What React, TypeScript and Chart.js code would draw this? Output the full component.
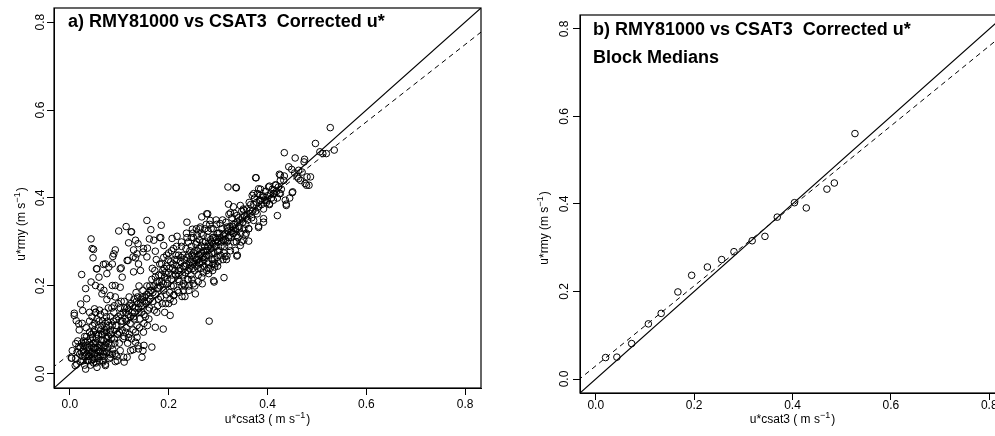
import React, { useEffect, useRef } from "react";
import { Chart, registerables } from "chart.js";

Chart.register(...registerables);

type Pt = [number, number];

const FONT = '"Liberation Sans", Arial, sans-serif';

// ---- axes ----
const xTickValues = [0, 0.2, 0.4, 0.6, 0.8];
const yTickValues = [0, 0.2, 0.4, 0.6, 0.8];
const axisMin = -0.032;
const axisMax = 0.832;

// ---- text ----
const titleA = "a) RMY81000 vs CSAT3  Corrected u*";
const titleB1 = "b) RMY81000 vs CSAT3  Corrected u*";
const titleB2 = "Block Medians";
const xLabelParts = ["u*csat3 ( m s", "\u22121", ")"];
const yLabelParts = ["u*rmy (m s", "\u22121", ")"];

// ---- reference / fit lines (intercept, slope) ----
const oneToOne = { intercept: 0, slope: 1 };
const fitA = { intercept: 0.045, slope: 0.88 };
const fitB = { intercept: 0.03, slope: 0.914 };
const lineSpanX = [-0.05, 0.9];

// ---- panel b: block medians ----
const medianCsat = [0.02, 0.043, 0.073, 0.107, 0.133, 0.167, 0.195, 0.227, 0.256, 0.281, 0.318, 0.344, 0.369, 0.404, 0.428, 0.47, 0.485, 0.527];
const medianRmy = [0.049, 0.05, 0.081, 0.126, 0.15, 0.199, 0.237, 0.256, 0.273, 0.291, 0.316, 0.326, 0.37, 0.403, 0.391, 0.434, 0.448, 0.561];

// ---- panel a: individual 30-min values (u*csat3, u*rmy) ----
const clusterLow: Pt[] = [
  [0.012, 0.035], [0.015, 0.05], [0.018, 0.062], [0.02, 0.045], [0.022, 0.028], [0.024, 0.07], [0.026, 0.04], [0.028, 0.055],
  [0.03, 0.02], [0.03, 0.085], [0.032, 0.065], [0.034, 0.045], [0.035, 0.03], [0.036, 0.075], [0.038, 0.055], [0.04, 0.04],
  [0.04, 0.095], [0.042, 0.02], [0.043, 0.065], [0.045, 0.05], [0.046, 0.083], [0.047, 0.033], [0.048, 0.06], [0.05, 0.045],
  [0.05, 0.1], [0.052, 0.072], [0.053, 0.025], [0.055, 0.055], [0.056, 0.04], [0.058, 0.088], [0.06, 0.065], [0.06, 0.03],
  [0.062, 0.05], [0.064, 0.078], [0.065, 0.11], [0.066, 0.04], [0.068, 0.06], [0.07, 0.095], [0.072, 0.022], [0.073, 0.07],
  [0.075, 0.05], [0.076, 0.12], [0.078, 0.085], [0.08, 0.035], [0.082, 0.1], [0.084, 0.065], [0.086, 0.045], [0.088, 0.12],
  [0.09, 0.08], [0.092, 0.028], [0.014, 0.022], [0.016, 0.075], [0.019, 0.1], [0.021, 0.06], [0.025, 0.115], [0.027, 0.03],
  [0.029, 0.048], [0.031, 0.072], [0.033, 0.105], [0.037, 0.04], [0.039, 0.06], [0.041, 0.08], [0.044, 0.03], [0.046, 0.11],
  [0.049, 0.07], [0.051, 0.035], [0.054, 0.09], [0.057, 0.06], [0.059, 0.12], [0.061, 0.04], [0.063, 0.1], [0.067, 0.03],
  [0.069, 0.075], [0.071, 0.05], [0.074, 0.13], [0.077, 0.06], [0.079, 0.11], [0.081, 0.045], [0.083, 0.09], [0.087, 0.055],
  [0.089, 0.14], [0.091, 0.07], [0.093, 0.11], [0.095, 0.04], [0.097, 0.09], [0.004, 0.036], [0.005, 0.053], [0.012, 0.069],
  [0.096, 0.091], [0.04, 0.12], [0.045, 0.13], [0.05, 0.115], [0.055, 0.125], [0.058, 0.105], [0.062, 0.135], [0.066, 0.12],
  [0.07, 0.14], [0.074, 0.105], [0.078, 0.15], [0.082, 0.13], [0.086, 0.11], [0.09, 0.155], [0.094, 0.125], [0.098, 0.16],
  [0.066, 0.09], [0.072, 0.115], [0.08, 0.095], [0.085, 0.15], [0.06, 0.145], [0.048, 0.095], [0.052, 0.14],
];

const clusterDense: Pt[] = [
  [0.023, 0.05], [0.027, 0.065], [0.031, 0.04], [0.035, 0.06], [0.039, 0.05], [0.043, 0.045], [0.047, 0.07], [0.051, 0.06],
  [0.055, 0.07], [0.059, 0.05], [0.063, 0.065], [0.067, 0.05], [0.071, 0.065], [0.075, 0.08], [0.079, 0.07], [0.034, 0.085],
  [0.044, 0.09], [0.054, 0.08], [0.064, 0.09], [0.074, 0.095], [0.084, 0.08], [0.028, 0.075], [0.038, 0.03], [0.048, 0.025],
  [0.058, 0.035], [0.068, 0.045],
];

const bandLower: Pt[] = [
  [0.095, 0.11], [0.098, 0.13], [0.1, 0.095], [0.102, 0.15], [0.104, 0.12], [0.106, 0.1], [0.108, 0.14], [0.11, 0.085],
  [0.11, 0.165], [0.112, 0.125], [0.114, 0.105], [0.116, 0.15], [0.118, 0.135], [0.12, 0.09], [0.12, 0.175], [0.122, 0.115],
  [0.124, 0.16], [0.126, 0.14], [0.128, 0.1], [0.13, 0.17], [0.13, 0.125], [0.132, 0.15], [0.134, 0.185], [0.136, 0.11],
  [0.138, 0.16], [0.14, 0.14], [0.14, 0.2], [0.142, 0.125], [0.144, 0.17], [0.146, 0.155], [0.148, 0.19], [0.15, 0.135],
  [0.15, 0.115], [0.152, 0.175], [0.154, 0.16], [0.156, 0.2], [0.158, 0.145], [0.16, 0.185], [0.16, 0.125], [0.162, 0.17],
  [0.1, 0.07], [0.104, 0.165], [0.108, 0.08], [0.113, 0.14], [0.117, 0.07], [0.121, 0.155], [0.125, 0.08], [0.129, 0.13],
  [0.133, 0.095], [0.137, 0.175], [0.141, 0.105], [0.145, 0.14], [0.149, 0.095], [0.153, 0.13], [0.157, 0.11], [0.161, 0.15],
  [0.103, 0.135], [0.107, 0.12], [0.111, 0.15], [0.115, 0.12], [0.119, 0.145], [0.123, 0.13], [0.127, 0.155], [0.131, 0.14],
  [0.135, 0.165], [0.139, 0.15], [0.143, 0.16], [0.147, 0.175], [0.151, 0.165], [0.155, 0.18], [0.159, 0.165], [0.163, 0.19],
];

const bandMiddle: Pt[] = [
  [0.165, 0.19], [0.166, 0.215], [0.168, 0.165], [0.17, 0.2], [0.172, 0.235], [0.174, 0.18], [0.176, 0.21], [0.178, 0.155],
  [0.18, 0.225], [0.18, 0.195], [0.182, 0.25], [0.184, 0.175], [0.186, 0.21], [0.188, 0.235], [0.19, 0.19], [0.19, 0.265],
  [0.192, 0.22], [0.194, 0.16], [0.196, 0.245], [0.198, 0.205], [0.2, 0.23], [0.2, 0.275], [0.202, 0.185], [0.204, 0.255],
  [0.206, 0.215], [0.208, 0.24], [0.21, 0.2], [0.21, 0.285], [0.212, 0.26], [0.214, 0.225], [0.216, 0.245], [0.218, 0.19],
  [0.22, 0.27], [0.22, 0.235], [0.222, 0.21], [0.224, 0.255], [0.226, 0.29], [0.228, 0.225], [0.23, 0.245], [0.23, 0.205],
  [0.167, 0.24], [0.171, 0.145], [0.175, 0.26], [0.179, 0.17], [0.183, 0.2], [0.187, 0.16], [0.191, 0.24], [0.195, 0.18],
  [0.199, 0.26], [0.203, 0.17], [0.207, 0.225], [0.211, 0.18], [0.215, 0.27], [0.219, 0.215], [0.223, 0.24], [0.227, 0.2],
  [0.232, 0.26], [0.234, 0.23], [0.235, 0.285], [0.236, 0.25], [0.238, 0.215], [0.24, 0.27], [0.24, 0.3], [0.242, 0.24],
  [0.244, 0.26], [0.245, 0.225], [0.246, 0.29], [0.248, 0.25], [0.25, 0.275], [0.25, 0.31], [0.252, 0.235], [0.254, 0.265],
  [0.255, 0.295], [0.256, 0.245], [0.258, 0.28], [0.26, 0.26], [0.26, 0.225], [0.262, 0.305], [0.264, 0.27], [0.265, 0.24],
  [0.266, 0.29], [0.268, 0.255], [0.27, 0.28], [0.27, 0.315], [0.272, 0.245], [0.274, 0.265], [0.275, 0.3], [0.276, 0.28],
  [0.278, 0.255], [0.28, 0.29], [0.28, 0.325], [0.282, 0.27], [0.284, 0.24], [0.285, 0.305], [0.286, 0.285], [0.288, 0.26],
  [0.29, 0.295], [0.29, 0.33], [0.292, 0.275], [0.294, 0.25], [0.295, 0.31], [0.296, 0.29], [0.298, 0.265], [0.3, 0.3],
  [0.3, 0.32], [0.302, 0.28], [0.233, 0.2], [0.237, 0.31], [0.241, 0.2], [0.243, 0.28], [0.247, 0.215], [0.249, 0.32],
  [0.251, 0.255], [0.253, 0.2], [0.257, 0.3], [0.259, 0.24], [0.261, 0.285], [0.263, 0.33], [0.267, 0.22], [0.269, 0.3],
  [0.271, 0.26], [0.273, 0.33], [0.277, 0.235], [0.279, 0.31], [0.281, 0.25], [0.283, 0.34], [0.287, 0.3], [0.289, 0.235],
  [0.291, 0.31], [0.293, 0.26], [0.297, 0.34], [0.299, 0.245],
];

const bandDense: Pt[] = [
  [0.162, 0.2], [0.168, 0.185], [0.173, 0.22], [0.177, 0.195], [0.181, 0.21], [0.185, 0.225], [0.189, 0.205], [0.193, 0.23],
  [0.197, 0.215], [0.201, 0.24], [0.205, 0.2], [0.209, 0.25], [0.213, 0.235], [0.217, 0.26], [0.221, 0.225], [0.225, 0.265],
  [0.229, 0.27], [0.233, 0.245], [0.237, 0.265], [0.239, 0.235], [0.243, 0.255], [0.247, 0.27], [0.249, 0.24], [0.253, 0.28],
  [0.257, 0.26], [0.261, 0.27], [0.263, 0.25], [0.267, 0.275], [0.269, 0.265], [0.273, 0.29], [0.277, 0.27], [0.279, 0.28],
  [0.283, 0.295], [0.287, 0.275], [0.289, 0.31], [0.293, 0.29], [0.297, 0.305], [0.299, 0.28], [0.303, 0.32], [0.307, 0.3],
  [0.311, 0.315], [0.315, 0.305], [0.319, 0.33], [0.323, 0.315], [0.327, 0.325], [0.331, 0.34], [0.335, 0.33], [0.339, 0.345],
  [0.343, 0.33], [0.349, 0.355], [0.186, 0.25], [0.196, 0.27], [0.206, 0.28], [0.216, 0.29], [0.226, 0.3], [0.236, 0.32],
  [0.246, 0.31], [0.256, 0.33], [0.266, 0.32], [0.276, 0.34], [0.286, 0.33], [0.296, 0.35], [0.2, 0.16], [0.21, 0.165],
  [0.22, 0.185], [0.23, 0.19], [0.24, 0.215], [0.25, 0.205], [0.26, 0.21], [0.27, 0.23], [0.28, 0.24], [0.29, 0.25],
  [0.3, 0.255], [0.31, 0.26],
];

const bandUpper: Pt[] = [
  [0.304, 0.31], [0.306, 0.29], [0.308, 0.33], [0.31, 0.305], [0.312, 0.275], [0.314, 0.32], [0.316, 0.345], [0.318, 0.3],
  [0.32, 0.325], [0.322, 0.29], [0.324, 0.335], [0.326, 0.31], [0.328, 0.355], [0.33, 0.32], [0.332, 0.3], [0.334, 0.34],
  [0.336, 0.325], [0.338, 0.36], [0.34, 0.31], [0.342, 0.335], [0.344, 0.35], [0.346, 0.32], [0.348, 0.37], [0.35, 0.345],
  [0.352, 0.33], [0.354, 0.36], [0.356, 0.34], [0.358, 0.375], [0.36, 0.35], [0.362, 0.33], [0.364, 0.365], [0.366, 0.385],
  [0.368, 0.355], [0.37, 0.37], [0.305, 0.27], [0.309, 0.35], [0.313, 0.29], [0.317, 0.26], [0.321, 0.31], [0.325, 0.28],
  [0.329, 0.335], [0.333, 0.365], [0.337, 0.3], [0.341, 0.355], [0.347, 0.3], [0.351, 0.375], [0.357, 0.32], [0.363, 0.39],
  [0.372, 0.385], [0.374, 0.4], [0.376, 0.37], [0.378, 0.39], [0.38, 0.41], [0.382, 0.38], [0.384, 0.395], [0.386, 0.42],
  [0.388, 0.385], [0.39, 0.405], [0.392, 0.375], [0.394, 0.395], [0.396, 0.415], [0.398, 0.39], [0.4, 0.405], [0.402, 0.425],
  [0.404, 0.385], [0.406, 0.41], [0.408, 0.4], [0.41, 0.42], [0.412, 0.395], [0.414, 0.41], [0.416, 0.43], [0.418, 0.415],
  [0.42, 0.4], [0.422, 0.425], [0.424, 0.41], [0.426, 0.44], [0.428, 0.42],
];

const scatterHigh: Pt[] = [
  [0.527, 0.56], [0.497, 0.524], [0.434, 0.503], [0.456, 0.491], [0.475, 0.488], [0.474, 0.482], [0.506, 0.505], [0.512, 0.501],
  [0.519, 0.501], [0.535, 0.509], [0.424, 0.454], [0.434, 0.45], [0.443, 0.471], [0.449, 0.465], [0.455, 0.457], [0.463, 0.463],
  [0.47, 0.459], [0.487, 0.448], [0.479, 0.429], [0.476, 0.433], [0.484, 0.429], [0.45, 0.412], [0.451, 0.414], [0.376, 0.446],
  [0.404, 0.427], [0.417, 0.429], [0.42, 0.36], [0.438, 0.386], [0.436, 0.395], [0.426, 0.452], [0.433, 0.44], [0.46, 0.448],
  [0.48, 0.448], [0.467, 0.44], [0.32, 0.425], [0.336, 0.424], [0.362, 0.302], [0.338, 0.268], [0.312, 0.219], [0.292, 0.209],
  [0.281, 0.228], [0.268, 0.205], [0.291, 0.212], [0.282, 0.12], [0.237, 0.345], [0.248, 0.329], [0.264, 0.334], [0.277, 0.364],
  [0.267, 0.357], [0.284, 0.349], [0.227, 0.176], [0.233, 0.176], [0.254, 0.182], [0.241, 0.19], [0.21, 0.178], [0.203, 0.133],
  [0.377, 0.446], [0.463, 0.444], [0.279, 0.364], [0.322, 0.363], [0.352, 0.372], [0.369, 0.406], [0.386, 0.395], [0.404, 0.387],
  [0.438, 0.383], [0.392, 0.345], [0.362, 0.33], [0.382, 0.336], [0.338, 0.315], [0.352, 0.304], [0.335, 0.281], [0.339, 0.27],
  [0.314, 0.267], [0.263, 0.254], [0.293, 0.243], [0.345, 0.383], [0.331, 0.38], [0.345, 0.292], [0.355, 0.315], [0.331, 0.319],
  [0.318, 0.334], [0.304, 0.342], [0.298, 0.319], [0.311, 0.304], [0.318, 0.268], [0.392, 0.353], [0.382, 0.333], [0.372, 0.349],
  [0.358, 0.357], [0.365, 0.372], [0.379, 0.364], [0.372, 0.41], [0.382, 0.421], [0.385, 0.406], [0.392, 0.402], [0.399, 0.395],
  [0.412, 0.41], [0.426, 0.41], [0.337, 0.423], [0.321, 0.386], [0.325, 0.366], [0.257, 0.315], [0.445, 0.4],
];

const scatterLowRight: Pt[] = [
  [0.189, 0.102], [0.192, 0.14], [0.176, 0.14], [0.166, 0.061], [0.146, 0.038], [0.15, 0.065], [0.139, 0.057], [0.133, 0.072],
  [0.136, 0.083], [0.123, 0.053], [0.116, 0.038], [0.11, 0.027], [0.102, 0.053], [0.096, 0.03], [0.092, 0.046], [0.082, 0.038],
  [0.072, 0.019], [0.067, 0.027], [0.055, 0.015], [0.032, 0.011], [0.011, 0.019], [0.003, 0.036], [0.173, 0.106], [0.148, 0.053],
  [0.138, 0.064], [0.128, 0.055], [0.109, 0.038], [0.119, 0.083], [0.113, 0.095],
];

const scatterUpperLeft: Pt[] = [
  [0.043, 0.307], [0.045, 0.285], [0.048, 0.283], [0.047, 0.264], [0.024, 0.226], [0.032, 0.194], [0.034, 0.171], [0.022, 0.159],
  [0.026, 0.144], [0.009, 0.138], [0.009, 0.133], [0.013, 0.121], [0.018, 0.114], [0.04, 0.14], [0.05, 0.148], [0.052, 0.14],
  [0.043, 0.209], [0.052, 0.201], [0.055, 0.239], [0.059, 0.22], [0.062, 0.197], [0.065, 0.182], [0.072, 0.25], [0.075, 0.228],
  [0.086, 0.25], [0.089, 0.273], [0.092, 0.282], [0.099, 0.325], [0.114, 0.335], [0.124, 0.323], [0.119, 0.298], [0.133, 0.304],
  [0.156, 0.349], [0.164, 0.328], [0.185, 0.338], [0.116, 0.258], [0.129, 0.282], [0.128, 0.266], [0.136, 0.273], [0.139, 0.25],
  [0.149, 0.285], [0.156, 0.266], [0.143, 0.235], [0.129, 0.232], [0.102, 0.239], [0.106, 0.22], [0.092, 0.201], [0.082, 0.178],
  [0.092, 0.175], [0.075, 0.169], [0.069, 0.19], [0.086, 0.201], [0.102, 0.197], [0.17, 0.304], [0.182, 0.31], [0.138, 0.296],
  [0.157, 0.286], [0.184, 0.31], [0.161, 0.307], [0.087, 0.267], [0.068, 0.249], [0.054, 0.239], [0.079, 0.243], [0.104, 0.241],
  [0.118, 0.258], [0.133, 0.264], [0.148, 0.277], [0.173, 0.279], [0.19, 0.292], [0.207, 0.308], [0.217, 0.313], [0.125, 0.323],
];

const panelAPoints: Pt[] = [
  ...clusterLow, ...clusterDense, ...bandLower, ...bandMiddle, ...bandDense, ...bandUpper,
  ...scatterHigh, ...scatterLowRight, ...scatterUpperLeft,
];
const panelBPoints: Pt[] = medianCsat.map((x, i) => [x, medianRmy[i]] as Pt);

// ---- drawing helpers ----
function drawSupText(ctx: CanvasRenderingContext2D, parts: string[], cx: number, baseY: number) {
  const mainFont = `12px ${FONT}`;
  const supFont = `9px ${FONT}`;
  ctx.font = mainFont;
  const w0 = ctx.measureText(parts[0]).width;
  const w2 = ctx.measureText(parts[2]).width;
  ctx.font = supFont;
  const w1 = ctx.measureText(parts[1]).width;
  let x = cx - (w0 + w1 + w2 + 1) / 2;
  ctx.textAlign = "left";
  ctx.textBaseline = "alphabetic";
  ctx.font = mainFont;
  ctx.fillText(parts[0], x, baseY);
  x += w0;
  ctx.font = supFont;
  ctx.fillText(parts[1], x, baseY - 5);
  x += w1 + 1;
  ctx.font = mainFont;
  ctx.fillText(parts[2], x, baseY);
}

type TitleLine = { text: string; x: number; y: number; maxWidth: number };

type PanelSpec = {
  left: number;
  width: number;
  height: number;
  padTop: number;
  padRight: number;
  yAxisWidth: number;
  xAxisHeight: number;
  xTickPad: number;
  yTickPad: number;
  titles: TitleLine[];
  xLabelY: number;
  yLabelX: number;
  yLabelShift: number;
  points: Pt[];
  fit: { intercept: number; slope: number };
};

function lineData(l: { intercept: number; slope: number }) {
  return lineSpanX.map((x) => ({ x, y: l.intercept + l.slope * x }));
}

function Panel({ spec }: { spec: PanelSpec }) {
  const ref = useRef<HTMLCanvasElement>(null);
  useEffect(() => {
    const decor = {
      id: "decor",
      afterDraw(chart: any) {
        const ctx: CanvasRenderingContext2D = chart.ctx;
        const a = chart.chartArea;
        ctx.save();
        ctx.strokeStyle = "#000";
        ctx.lineWidth = 1.2;
        ctx.strokeRect(a.left, a.top, a.right - a.left, a.bottom - a.top);
        ctx.fillStyle = "#000";
        ctx.font = `bold 18px ${FONT}`;
        ctx.textAlign = "left";
        ctx.textBaseline = "alphabetic";
        spec.titles.forEach((t) => ctx.fillText(t.text, t.x, t.y, t.maxWidth));
        drawSupText(ctx, xLabelParts, (a.left + a.right) / 2, spec.xLabelY);
        ctx.translate(spec.yLabelX, (a.top + a.bottom) / 2 + spec.yLabelShift);
        ctx.rotate(-Math.PI / 2);
        drawSupText(ctx, yLabelParts, 0, 0);
        ctx.restore();
      },
    };
    const tickGrid = {
      display: true,
      drawOnChartArea: false,
      drawTicks: true,
      tickLength: 7,
      tickColor: "#000",
      tickWidth: 1,
      color: "#000",
    };
    const chart = new Chart(ref.current as HTMLCanvasElement, {
      type: "scatter",
      data: {
        datasets: [
          {
            data: spec.points.map(([x, y]) => ({ x, y })),
            pointStyle: "circle",
            pointRadius: 3.3,
            pointBorderWidth: 1,
            borderColor: "#000",
            backgroundColor: "rgba(0,0,0,0)",
            pointBackgroundColor: "rgba(0,0,0,0)",
            pointBorderColor: "#000",
          } as any,
          {
            data: lineData(oneToOne),
            showLine: true,
            pointRadius: 0,
            borderColor: "#000",
            borderWidth: 1.2,
            fill: false,
          } as any,
          {
            data: lineData(spec.fit),
            showLine: true,
            pointRadius: 0,
            borderColor: "#000",
            borderWidth: 1,
            borderDash: [5, 4],
            fill: false,
          } as any,
        ],
      },
      options: {
        animation: false,
        responsive: false,
        events: [],
        layout: { padding: { top: spec.padTop, right: spec.padRight, left: 0, bottom: 0 } },
        plugins: { legend: { display: false }, tooltip: { enabled: false }, title: { display: false } },
        scales: {
          x: {
            type: "linear",
            position: "bottom",
            min: axisMin,
            max: axisMax,
            afterBuildTicks: (s: any) => {
              s.ticks = xTickValues.map((v) => ({ value: v }));
            },
            afterFit: (s: any) => {
              s.height = spec.xAxisHeight;
            },
            grid: tickGrid,
            border: { display: true, color: "#000", width: 1 },
            ticks: {
              color: "#000",
              font: { family: FONT, size: 12 },
              padding: spec.xTickPad,
              autoSkip: false,
              maxRotation: 0,
              callback: (v: any) => Number(v).toFixed(1),
            },
          },
          y: {
            type: "linear",
            position: "left",
            min: axisMin,
            max: axisMax,
            afterBuildTicks: (s: any) => {
              s.ticks = yTickValues.map((v) => ({ value: v }));
            },
            afterFit: (s: any) => {
              s.width = spec.yAxisWidth;
            },
            grid: tickGrid,
            border: { display: true, color: "#000", width: 1 },
            ticks: {
              color: "#000",
              font: { family: FONT, size: 12 },
              padding: spec.yTickPad,
              autoSkip: false,
              minRotation: 90,
              maxRotation: 90,
              crossAlign: "center",
              callback: (v: any) => Number(v).toFixed(1),
            },
          },
        },
      } as any,
      plugins: [decor],
    });
    return () => chart.destroy();
  }, [spec]);
  return (
    <canvas
      ref={ref}
      width={spec.width}
      height={spec.height}
      style={{ position: "absolute", left: spec.left, top: 0, width: spec.width, height: spec.height }}
    />
  );
}

const specA: PanelSpec = {
  left: 0,
  width: 495,
  height: 436,
  padTop: 8,
  padRight: 14,
  yAxisWidth: 54,
  xAxisHeight: 48,
  xTickPad: 2.8,
  yTickPad: -1.8,
  titles: [{ text: titleA, x: 68, y: 27, maxWidth: 322 }],
  xLabelY: 423,
  yLabelX: 25,
  yLabelShift: 26,
  points: panelAPoints,
  fit: fitA,
};

const specB: PanelSpec = {
  left: 500,
  width: 510,
  height: 436,
  padTop: 15,
  padRight: 4,
  yAxisWidth: 80,
  xAxisHeight: 43,
  xTickPad: -2,
  yTickPad: 0.4,
  titles: [
    { text: titleB1, x: 93, y: 34.5, maxWidth: 325 },
    { text: titleB2, x: 93, y: 62.5, maxWidth: 130 },
  ],
  xLabelY: 423,
  yLabelX: 48,
  yLabelShift: 24,
  points: panelBPoints,
  fit: fitB,
};

export default function App() {
  return (
    <div
      style={{
        position: "fixed",
        left: 0,
        top: 0,
        width: 995,
        height: 436,
        overflow: "hidden",
        background: "#fff",
      }}
    >
      <Panel spec={specA} />
      <Panel spec={specB} />
    </div>
  );
}
